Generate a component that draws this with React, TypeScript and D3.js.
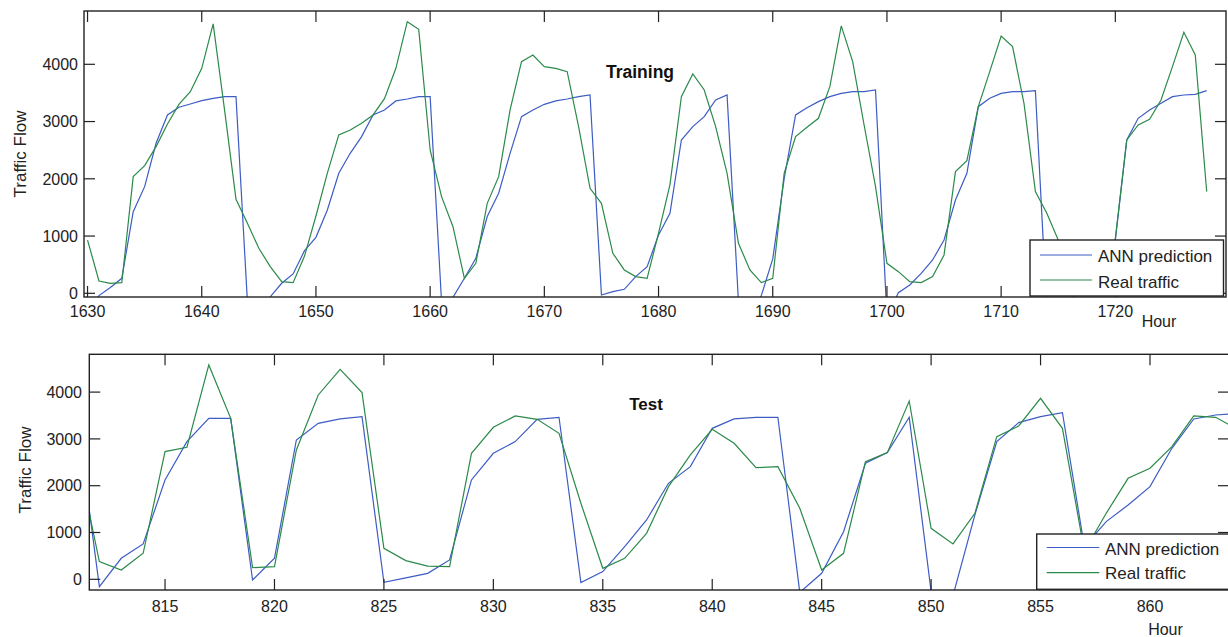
import React from "react";
import * as d3 from "d3";

// ---------- Training data (hours 1630..1728) ----------
const trainStart = 1630;
const trainReal = [
  930, 215, 175, 186, 2038, 2230, 2562, 2958, 3300, 3522,
  3930, 4705, 3200, 1642, 1223, 786, 466, 204, 186, 650,
  1350, 2100, 2766, 2853, 2970, 3115, 3400, 3930, 4745, 4611,
  2504, 1689, 1164, 262, 524, 1572, 2038, 3202, 4047, 4163,
  3959, 3930, 3872, 2911, 1834, 1572, 699, 408, 291, 262,
  1050, 1900, 3435, 3831, 3552, 2911, 2096, 873, 408, 186,
  262, 2096, 2737, 2900, 3057, 3610, 4670, 4047, 2940, 1863,
  524, 378, 204, 186, 291, 670, 2125, 2317, 3260, 3872,
  4495, 4309, 3319, 1776, 1397, 932, 500, 250, 200, 300,
  960, 2678, 2940, 3039, 3377, 3959, 4559, 4163, 1776,
];
const trainAnn = [
  -300, -40, 100, 262, 1426, 1863, 2620, 3115, 3249, 3307,
  3365, 3406, 3435, 3435, -150, -400, -60, 175, 338, 745,
  978, 1456, 2096, 2445, 2737, 3115, 3202, 3360, 3394, 3435,
  3435, -150, -70, 262, 611, 1340, 1747, 2445, 3086, 3202,
  3301, 3360, 3394, 3435, 3464, -29, 29, 70, 291, 466,
  1019, 1397, 2678, 2911, 3086, 3377, 3464, -150, -300, -40,
  600, 2000, 3115, 3240, 3348, 3435, 3493, 3523, 3523, 3552,
  -400, 10, 146, 349, 582, 932, 1630, 2096, 3260, 3406,
  3493, 3523, 3523, 3540, -300, -400, -200, 200, 400, 650,
  932, 2678, 3057, 3202, 3319, 3435, 3464, 3476, 3540,
];
const trainXTicks = [1630, 1640, 1650, 1660, 1670, 1680, 1690, 1700, 1710, 1720];

// ---------- Test data (hours 811..864) ----------
const testStart = 811;
const testReal = [
  2620, 377, 199, 556, 2728, 2821, 4580, 3440, 249, 271,
  2764, 3939, 4487, 3989, 662, 400, 280, 271, 2692, 3248,
  3490, 3419, 3120, 1624, 235, 449, 983, 1980, 2657, 3205,
  2906, 2386, 2407, 1517, 199, 556, 2514, 2707, 3810, 1090,
  755, 1410, 3048, 3276, 3867, 3226, 600, 1410, 2158, 2372,
  2835, 3490, 3462, 3205,
];
const testAnn = [
  3400, -157, 449, 755, 2123, 2942, 3440, 3440, -14, 449,
  2977, 3333, 3426, 3476, -64, 30, 128, 413, 2123, 2692,
  2942, 3419, 3462, -71, 164, 698, 1268, 2051, 2407, 3226,
  3426, 3462, 3462, -280, 128, 1018, 2479, 2707, 3462, -260,
  -350, 1375, 2942, 3348, 3476, 3561, 700, 1232, 1588, 1980,
  2799, 3426, 3511, 3540,
];
const testXTicks = [815, 820, 825, 830, 835, 840, 845, 850, 855, 860];

const yTicks = [0, 1000, 2000, 3000, 4000];
const seriesNames = ["ANN prediction", "Real traffic"];

const BLUE = "#3d5cc4";
const GREEN = "#2b8a4a";
const FONT = "'Liberation Sans', Arial, Helvetica, sans-serif";

type Panel = {
  id: string;
  left: number; right: number; top: number; bottom: number;
  xDomain: [number, number]; yDomain: [number, number];
  start: number; real: number[]; ann: number[]; xTicks: number[];
  title: string; titleX: number; titleY: number; titleSize: number;
  yLabelX: number; yLabelY: number;
  yTickLabelX: number; xTickLabelY: number;
  hourX: number; hourY: number;
  legend: { x0: number; y0: number; x1: number; y1: number; lx0: number; lx1: number; tx: number; r1: number; r2: number; t1: number; t2: number };
};

const panels: Panel[] = [
  {
    id: "train", left: 84, right: 1226, top: 11, bottom: 297,
    xDomain: [1629.69, 1729.69], yDomain: [-64.6, 4931],
    start: trainStart, real: trainReal, ann: trainAnn, xTicks: trainXTicks,
    title: "Training", titleX: 640, titleY: 78, titleSize: 17.5,
    yLabelX: 20, yLabelY: 154, yTickLabelX: 78, xTickLabelY: 317,
    hourX: 1159, hourY: 326.5,
    legend: { x0: 1030, y0: 240, x1: 1223.5, y1: 296, lx0: 1040, lx1: 1092, tx: 1098, r1: 255, r2: 280, t1: 261.5, t2: 287.5 },
  },
  {
    id: "test", left: 89.3, right: 1229, top: 354.3, bottom: 590,
    xDomain: [811.54, 863.61], yDomain: [-228.6, 4807.7],
    start: testStart, real: testReal, ann: testAnn, xTicks: testXTicks,
    title: "Test", titleX: 646, titleY: 410, titleSize: 17,
    yLabelX: 25.5, yLabelY: 470, yTickLabelX: 82, xTickLabelY: 611.5,
    hourX: 1165.5, hourY: 635,
    legend: { x0: 1036.7, y0: 534, x1: 1240, y1: 589.3, lx0: 1046.7, lx1: 1099.3, tx: 1105, r1: 547.5, r2: 572.7, t1: 555, t2: 579.3 },
  },
];

function PanelView({ p }: { p: Panel }) {
  const x = d3.scaleLinear().domain(p.xDomain).range([p.left, p.right]);
  const y = d3.scaleLinear().domain(p.yDomain).range([p.bottom, p.top]);
  const line = d3
    .line<number>()
    .x((_, i) => x(p.start + i))
    .y((v) => y(v));
  const tick = 11;
  const clipId = `clip-${p.id}`;
  const L = p.legend;
  return (
    <g>
      <defs>
        <clipPath id={clipId}>
          <rect x={p.left} y={p.top} width={p.right - p.left} height={p.bottom - p.top} />
        </clipPath>
      </defs>
      <rect x={p.left} y={p.top} width={p.right - p.left} height={p.bottom - p.top} fill="#fff" />
      <g clipPath={`url(#${clipId})`}>
        <path d={line(p.ann) || ""} fill="none" stroke={BLUE} strokeWidth={1.2} />
        <path d={line(p.real) || ""} fill="none" stroke={GREEN} strokeWidth={1.2} />
      </g>
      {/* ticks */}
      <g stroke="#222" strokeWidth={1.2}>
        {p.xTicks.map((t) => (
          <g key={`xt${t}`}>
            <line x1={x(t)} x2={x(t)} y1={p.bottom} y2={p.bottom - tick} />
            <line x1={x(t)} x2={x(t)} y1={p.top} y2={p.top + tick} />
          </g>
        ))}
        {yTicks.map((t) => (
          <g key={`yt${t}`}>
            <line x1={p.left} x2={p.left + tick} y1={y(t)} y2={y(t)} />
            <line x1={p.right} x2={p.right - tick} y1={y(t)} y2={y(t)} />
          </g>
        ))}
      </g>
      <rect x={p.left} y={p.top} width={p.right - p.left} height={p.bottom - p.top} fill="none" stroke="#222" strokeWidth={1.4} />
      {/* tick labels */}
      <g fontFamily={FONT} fontSize={16} fill="#222">
        {p.xTicks.map((t) => (
          <text key={`xl${t}`} x={x(t)} y={p.xTickLabelY} textAnchor="middle">{t}</text>
        ))}
        {yTicks.map((t) => (
          <text key={`yl${t}`} x={p.yTickLabelX} y={y(t)} dy="0.36em" textAnchor="end">{t}</text>
        ))}
        <text x={p.hourX} y={p.hourY} textAnchor="middle">Hour</text>
      </g>
      <text
        fontFamily={FONT}
        fontSize={17}
        fill="#222"
        textAnchor="middle"
        dominantBaseline="central"
        transform={`translate(${p.yLabelX},${p.yLabelY}) rotate(-90)`}
      >
        Traffic Flow
      </text>
      <text x={p.titleX} y={p.titleY} fontFamily={FONT} fontSize={p.titleSize} fontWeight="bold" fill="#111" textAnchor="middle">
        {p.title}
      </text>
      {/* legend */}
      <rect x={L.x0} y={L.y0} width={L.x1 - L.x0} height={L.y1 - L.y0} fill="#fff" stroke="#222" strokeWidth={1.4} />
      <line x1={L.lx0} x2={L.lx1} y1={L.r1} y2={L.r1} stroke={BLUE} strokeWidth={1.2} />
      <line x1={L.lx0} x2={L.lx1} y1={L.r2} y2={L.r2} stroke={GREEN} strokeWidth={1.2} />
      <g fontFamily={FONT} fontSize={17} fill="#222">
        <text x={L.tx} y={L.t1}>{seriesNames[0]}</text>
        <text x={L.tx} y={L.t2}>{seriesNames[1]}</text>
      </g>
    </g>
  );
}

export default function App() {
  return (
    <svg
      width={1228}
      height={637}
      style={{ position: "absolute", left: 0, top: 0, background: "#fff" }}
    >
      <rect x={0} y={0} width={1228} height={637} fill="#fff" />
      {panels.map((p) => (
        <PanelView key={p.id} p={p} />
      ))}
    </svg>
  );
}
